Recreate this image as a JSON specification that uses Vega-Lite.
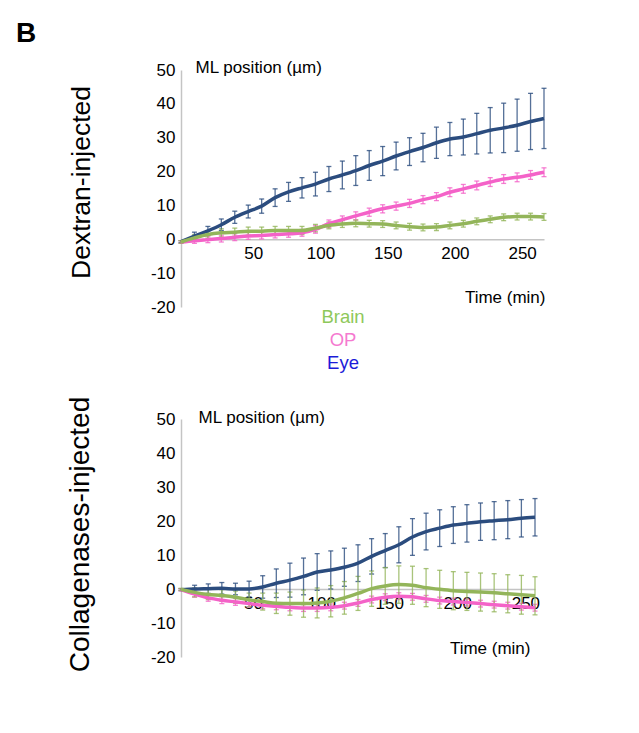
{
  "$schema": "https://vega.github.io/schema/vega-lite/v6.json",
  "padding": {"left": 16, "top": 20, "right": 5, "bottom": 5},
  "bounds": "flush",
  "spacing": 10,
  "background": "white",
  "title": {"text": "B", "anchor": "start", "frame": "group", "fontSize": 28, "fontWeight": "bold", "font": "Liberation Sans", "dx": -165, "offset": -12, "baseline": "alphabetic", "color": "#000000"},
  "config": {
    "view": {"stroke": null},
    "font": "Liberation Sans",
    "axis": {"grid": false, "ticks": false, "labelFont": "Liberation Sans", "labelFontSize": 17, "labelColor": "#000000", "labelExpr": "'' + datum.value", "titleFont": "Liberation Sans", "titleFontSize": 17, "titleFontWeight": "normal", "titleColor": "#000000", "domainColor": "#c4c4c4", "domainWidth": 1.5}
  },
  "resolve": {"scale": {"color": "independent", "fill": "independent"}},
  "datasets": {
    "legend": [{"label": "Brain"}, {"label": "OP"}, {"label": "Eye"}],
    "ml": [
      {"panel":"Dextran","series":"Eye","time":0,"mean":-0.7,"err":0.3},
      {"panel":"Dextran","series":"Eye","time":10,"mean":0.9,"err":1.2},
      {"panel":"Dextran","series":"Eye","time":20,"mean":2.5,"err":1.3},
      {"panel":"Dextran","series":"Eye","time":30,"mean":4.3,"err":1.7},
      {"panel":"Dextran","series":"Eye","time":40,"mean":6.5,"err":1.8},
      {"panel":"Dextran","series":"Eye","time":50,"mean":8.2,"err":1.9},
      {"panel":"Dextran","series":"Eye","time":60,"mean":9.8,"err":2.1},
      {"panel":"Dextran","series":"Eye","time":70,"mean":12.3,"err":2.6},
      {"panel":"Dextran","series":"Eye","time":80,"mean":14.0,"err":2.8},
      {"panel":"Dextran","series":"Eye","time":90,"mean":15.2,"err":3.0},
      {"panel":"Dextran","series":"Eye","time":100,"mean":16.3,"err":3.5},
      {"panel":"Dextran","series":"Eye","time":110,"mean":17.8,"err":3.7},
      {"panel":"Dextran","series":"Eye","time":120,"mean":19.0,"err":4.1},
      {"panel":"Dextran","series":"Eye","time":130,"mean":20.3,"err":4.4},
      {"panel":"Dextran","series":"Eye","time":140,"mean":21.8,"err":4.4},
      {"panel":"Dextran","series":"Eye","time":150,"mean":23.1,"err":4.3},
      {"panel":"Dextran","series":"Eye","time":160,"mean":24.6,"err":4.1},
      {"panel":"Dextran","series":"Eye","time":170,"mean":25.9,"err":4.1},
      {"panel":"Dextran","series":"Eye","time":180,"mean":27.1,"err":4.2},
      {"panel":"Dextran","series":"Eye","time":190,"mean":28.5,"err":4.6},
      {"panel":"Dextran","series":"Eye","time":200,"mean":29.6,"err":4.9},
      {"panel":"Dextran","series":"Eye","time":210,"mean":30.2,"err":5.3},
      {"panel":"Dextran","series":"Eye","time":220,"mean":31.2,"err":6.0},
      {"panel":"Dextran","series":"Eye","time":230,"mean":32.2,"err":6.7},
      {"panel":"Dextran","series":"Eye","time":240,"mean":32.9,"err":7.3},
      {"panel":"Dextran","series":"Eye","time":250,"mean":33.7,"err":7.7},
      {"panel":"Dextran","series":"Eye","time":260,"mean":34.8,"err":8.3},
      {"panel":"Dextran","series":"Eye","time":270,"mean":35.7,"err":8.9},
      {"panel":"Dextran","series":"OP","time":0,"mean":-0.8,"err":0.4},
      {"panel":"Dextran","series":"OP","time":10,"mean":-0.4,"err":0.8},
      {"panel":"Dextran","series":"OP","time":20,"mean":-0.1,"err":0.9},
      {"panel":"Dextran","series":"OP","time":30,"mean":0.2,"err":1.0},
      {"panel":"Dextran","series":"OP","time":40,"mean":0.6,"err":1.0},
      {"panel":"Dextran","series":"OP","time":50,"mean":1.0,"err":1.0},
      {"panel":"Dextran","series":"OP","time":60,"mean":1.1,"err":1.0},
      {"panel":"Dextran","series":"OP","time":70,"mean":1.4,"err":1.0},
      {"panel":"Dextran","series":"OP","time":80,"mean":1.6,"err":1.0},
      {"panel":"Dextran","series":"OP","time":90,"mean":1.9,"err":1.0},
      {"panel":"Dextran","series":"OP","time":100,"mean":2.9,"err":1.1},
      {"panel":"Dextran","series":"OP","time":110,"mean":4.6,"err":1.1},
      {"panel":"Dextran","series":"OP","time":120,"mean":5.8,"err":1.1},
      {"panel":"Dextran","series":"OP","time":130,"mean":6.9,"err":1.2},
      {"panel":"Dextran","series":"OP","time":140,"mean":8.0,"err":1.2},
      {"panel":"Dextran","series":"OP","time":150,"mean":9.0,"err":1.2},
      {"panel":"Dextran","series":"OP","time":160,"mean":9.8,"err":1.2},
      {"panel":"Dextran","series":"OP","time":170,"mean":10.6,"err":1.2},
      {"panel":"Dextran","series":"OP","time":180,"mean":11.7,"err":1.2},
      {"panel":"Dextran","series":"OP","time":190,"mean":12.6,"err":1.2},
      {"panel":"Dextran","series":"OP","time":200,"mean":13.9,"err":1.3},
      {"panel":"Dextran","series":"OP","time":210,"mean":14.9,"err":1.3},
      {"panel":"Dextran","series":"OP","time":220,"mean":15.9,"err":1.3},
      {"panel":"Dextran","series":"OP","time":230,"mean":16.9,"err":1.3},
      {"panel":"Dextran","series":"OP","time":240,"mean":17.8,"err":1.3},
      {"panel":"Dextran","series":"OP","time":250,"mean":18.3,"err":1.3},
      {"panel":"Dextran","series":"OP","time":260,"mean":19.0,"err":1.3},
      {"panel":"Dextran","series":"OP","time":270,"mean":19.8,"err":1.3},
      {"panel":"Dextran","series":"Brain","time":0,"mean":-0.8,"err":0.4},
      {"panel":"Dextran","series":"Brain","time":10,"mean":0.4,"err":1.0},
      {"panel":"Dextran","series":"Brain","time":20,"mean":1.4,"err":1.1},
      {"panel":"Dextran","series":"Brain","time":30,"mean":1.9,"err":1.2},
      {"panel":"Dextran","series":"Brain","time":40,"mean":2.1,"err":1.2},
      {"panel":"Dextran","series":"Brain","time":50,"mean":2.4,"err":1.2},
      {"panel":"Dextran","series":"Brain","time":60,"mean":2.4,"err":1.2},
      {"panel":"Dextran","series":"Brain","time":70,"mean":2.6,"err":1.2},
      {"panel":"Dextran","series":"Brain","time":80,"mean":2.6,"err":1.2},
      {"panel":"Dextran","series":"Brain","time":90,"mean":2.6,"err":1.2},
      {"panel":"Dextran","series":"Brain","time":100,"mean":3.3,"err":1.1},
      {"panel":"Dextran","series":"Brain","time":110,"mean":4.1,"err":1.0},
      {"panel":"Dextran","series":"Brain","time":120,"mean":4.5,"err":1.0},
      {"panel":"Dextran","series":"Brain","time":130,"mean":4.7,"err":1.0},
      {"panel":"Dextran","series":"Brain","time":140,"mean":4.6,"err":1.0},
      {"panel":"Dextran","series":"Brain","time":150,"mean":4.5,"err":1.0},
      {"panel":"Dextran","series":"Brain","time":160,"mean":4.1,"err":1.0},
      {"panel":"Dextran","series":"Brain","time":170,"mean":3.7,"err":1.0},
      {"panel":"Dextran","series":"Brain","time":180,"mean":3.5,"err":1.0},
      {"panel":"Dextran","series":"Brain","time":190,"mean":3.6,"err":1.0},
      {"panel":"Dextran","series":"Brain","time":200,"mean":4.1,"err":1.0},
      {"panel":"Dextran","series":"Brain","time":210,"mean":4.6,"err":1.0},
      {"panel":"Dextran","series":"Brain","time":220,"mean":5.3,"err":1.0},
      {"panel":"Dextran","series":"Brain","time":230,"mean":5.9,"err":1.0},
      {"panel":"Dextran","series":"Brain","time":240,"mean":6.5,"err":1.0},
      {"panel":"Dextran","series":"Brain","time":250,"mean":6.7,"err":1.0},
      {"panel":"Dextran","series":"Brain","time":260,"mean":6.7,"err":1.0},
      {"panel":"Dextran","series":"Brain","time":270,"mean":6.6,"err":1.0},
      {"panel":"Collagenases","series":"Eye","time":0,"mean":-0.2,"err":0.3},
      {"panel":"Collagenases","series":"Eye","time":10,"mean":0.0,"err":1.1},
      {"panel":"Collagenases","series":"Eye","time":20,"mean":0.1,"err":1.4},
      {"panel":"Collagenases","series":"Eye","time":30,"mean":0.2,"err":1.7},
      {"panel":"Collagenases","series":"Eye","time":40,"mean":0.0,"err":1.7},
      {"panel":"Collagenases","series":"Eye","time":50,"mean":0.0,"err":2.3},
      {"panel":"Collagenases","series":"Eye","time":60,"mean":0.6,"err":3.3},
      {"panel":"Collagenases","series":"Eye","time":70,"mean":1.7,"err":4.2},
      {"panel":"Collagenases","series":"Eye","time":80,"mean":2.6,"err":5.0},
      {"panel":"Collagenases","series":"Eye","time":90,"mean":3.7,"err":5.4},
      {"panel":"Collagenases","series":"Eye","time":100,"mean":5.0,"err":5.4},
      {"panel":"Collagenases","series":"Eye","time":110,"mean":5.6,"err":5.6},
      {"panel":"Collagenases","series":"Eye","time":120,"mean":6.4,"err":5.6},
      {"panel":"Collagenases","series":"Eye","time":130,"mean":7.6,"err":5.4},
      {"panel":"Collagenases","series":"Eye","time":140,"mean":9.6,"err":5.2},
      {"panel":"Collagenases","series":"Eye","time":150,"mean":11.3,"err":5.0},
      {"panel":"Collagenases","series":"Eye","time":160,"mean":13.0,"err":5.3},
      {"panel":"Collagenases","series":"Eye","time":170,"mean":15.3,"err":5.4},
      {"panel":"Collagenases","series":"Eye","time":180,"mean":16.9,"err":5.4},
      {"panel":"Collagenases","series":"Eye","time":190,"mean":17.9,"err":5.4},
      {"panel":"Collagenases","series":"Eye","time":200,"mean":18.8,"err":5.4},
      {"panel":"Collagenases","series":"Eye","time":210,"mean":19.3,"err":5.5},
      {"panel":"Collagenases","series":"Eye","time":220,"mean":19.8,"err":5.5},
      {"panel":"Collagenases","series":"Eye","time":230,"mean":20.1,"err":5.6},
      {"panel":"Collagenases","series":"Eye","time":240,"mean":20.4,"err":5.6},
      {"panel":"Collagenases","series":"Eye","time":250,"mean":20.8,"err":5.5},
      {"panel":"Collagenases","series":"Eye","time":260,"mean":21.1,"err":5.5},
      {"panel":"Collagenases","series":"OP","time":0,"mean":-0.2,"err":0.3},
      {"panel":"Collagenases","series":"OP","time":10,"mean":-1.5,"err":0.9},
      {"panel":"Collagenases","series":"OP","time":20,"mean":-2.6,"err":1.0},
      {"panel":"Collagenases","series":"OP","time":30,"mean":-3.3,"err":1.0},
      {"panel":"Collagenases","series":"OP","time":40,"mean":-3.8,"err":1.0},
      {"panel":"Collagenases","series":"OP","time":50,"mean":-4.3,"err":1.0},
      {"panel":"Collagenases","series":"OP","time":60,"mean":-4.8,"err":1.0},
      {"panel":"Collagenases","series":"OP","time":70,"mean":-5.1,"err":1.0},
      {"panel":"Collagenases","series":"OP","time":80,"mean":-5.4,"err":1.0},
      {"panel":"Collagenases","series":"OP","time":90,"mean":-5.6,"err":1.0},
      {"panel":"Collagenases","series":"OP","time":100,"mean":-5.6,"err":1.0},
      {"panel":"Collagenases","series":"OP","time":110,"mean":-5.4,"err":1.0},
      {"panel":"Collagenases","series":"OP","time":120,"mean":-4.9,"err":1.0},
      {"panel":"Collagenases","series":"OP","time":130,"mean":-4.1,"err":1.0},
      {"panel":"Collagenases","series":"OP","time":140,"mean":-3.1,"err":1.0},
      {"panel":"Collagenases","series":"OP","time":150,"mean":-2.4,"err":1.0},
      {"panel":"Collagenases","series":"OP","time":160,"mean":-2.1,"err":1.0},
      {"panel":"Collagenases","series":"OP","time":170,"mean":-2.3,"err":1.0},
      {"panel":"Collagenases","series":"OP","time":180,"mean":-2.9,"err":1.0},
      {"panel":"Collagenases","series":"OP","time":190,"mean":-3.4,"err":1.0},
      {"panel":"Collagenases","series":"OP","time":200,"mean":-3.7,"err":1.0},
      {"panel":"Collagenases","series":"OP","time":210,"mean":-4.0,"err":1.0},
      {"panel":"Collagenases","series":"OP","time":220,"mean":-4.3,"err":1.0},
      {"panel":"Collagenases","series":"OP","time":230,"mean":-4.6,"err":1.0},
      {"panel":"Collagenases","series":"OP","time":240,"mean":-4.9,"err":1.0},
      {"panel":"Collagenases","series":"OP","time":250,"mean":-5.2,"err":1.0},
      {"panel":"Collagenases","series":"OP","time":260,"mean":-5.5,"err":1.0},
      {"panel":"Collagenases","series":"Brain","time":0,"mean":-0.1,"err":0.3},
      {"panel":"Collagenases","series":"Brain","time":10,"mean":-1.0,"err":1.3},
      {"panel":"Collagenases","series":"Brain","time":20,"mean":-1.6,"err":1.5},
      {"panel":"Collagenases","series":"Brain","time":30,"mean":-1.9,"err":1.7},
      {"panel":"Collagenases","series":"Brain","time":40,"mean":-2.4,"err":1.8},
      {"panel":"Collagenases","series":"Brain","time":50,"mean":-3.2,"err":2.0},
      {"panel":"Collagenases","series":"Brain","time":60,"mean":-3.7,"err":2.5},
      {"panel":"Collagenases","series":"Brain","time":70,"mean":-4.2,"err":3.0},
      {"panel":"Collagenases","series":"Brain","time":80,"mean":-4.3,"err":3.4},
      {"panel":"Collagenases","series":"Brain","time":90,"mean":-4.3,"err":4.0},
      {"panel":"Collagenases","series":"Brain","time":100,"mean":-4.1,"err":4.4},
      {"panel":"Collagenases","series":"Brain","time":110,"mean":-3.6,"err":4.6},
      {"panel":"Collagenases","series":"Brain","time":120,"mean":-2.6,"err":4.8},
      {"panel":"Collagenases","series":"Brain","time":130,"mean":-1.3,"err":5.0},
      {"panel":"Collagenases","series":"Brain","time":140,"mean":0.1,"err":5.2},
      {"panel":"Collagenases","series":"Brain","time":150,"mean":0.9,"err":5.4},
      {"panel":"Collagenases","series":"Brain","time":160,"mean":1.3,"err":5.5},
      {"panel":"Collagenases","series":"Brain","time":170,"mean":1.1,"err":5.6},
      {"panel":"Collagenases","series":"Brain","time":180,"mean":0.4,"err":5.6},
      {"panel":"Collagenases","series":"Brain","time":190,"mean":-0.1,"err":5.6},
      {"panel":"Collagenases","series":"Brain","time":200,"mean":-0.5,"err":5.6},
      {"panel":"Collagenases","series":"Brain","time":210,"mean":-0.7,"err":5.6},
      {"panel":"Collagenases","series":"Brain","time":220,"mean":-0.9,"err":5.6},
      {"panel":"Collagenases","series":"Brain","time":230,"mean":-1.1,"err":5.6},
      {"panel":"Collagenases","series":"Brain","time":240,"mean":-1.4,"err":5.6},
      {"panel":"Collagenases","series":"Brain","time":250,"mean":-1.7,"err":5.7},
      {"panel":"Collagenases","series":"Brain","time":260,"mean":-2.0,"err":5.6}
    ]
  },
  "vconcat": [
    {
      "width": 363,
      "height": 237,
      "title": {"text": "Dextran-injected", "orient": "left", "anchor": "middle", "fontSize": 26.5, "fontWeight": "normal", "font": "Liberation Sans", "offset": 55, "dx": 6, "color": "#000000"},
      "data": {"name": "ml"},
      "transform": [{"filter": "datum.panel === 'Dextran'"}],
      "encoding": {
        "x": {"field": "time", "type": "quantitative", "scale": {"domain": [0, 270], "nice": false, "zero": false},
              "axis": {"values": [50, 100, 150, 200, 250], "offset": -67.7, "labelPadding": 6, "labelOffset": 5, "title": "Time (min)", "titleX": 364, "titleY": 58, "titleAlign": "right", "titleAnchor": "end", "titleBaseline": "middle"}},
        "y": {"field": "mean", "type": "quantitative", "scale": {"domain": [-20, 50], "nice": false},
              "axis": {"values": [-20, -10, 0, 10, 20, 30, 40, 50], "labelPadding": 6, "title": "ML position (µm)", "titleAngle": 0, "titleX": 14, "titleY": -3, "titleAlign": "left", "titleBaseline": "middle"}},
        "color": {"field": "series", "type": "nominal", "scale": {"domain": ["Brain", "OP", "Eye"], "range": ["#93b55a", "#f462c8", "#2b4c7e"]}, "legend": null}
      },
      "layer": [
        {"mark": {"type": "errorbar", "thickness": 1.3, "ticks": {"size": 5, "opacity": 0.8}, "rule": {"opacity": 0.8}}, "encoding": {"yError": {"field": "err"}}},
        {"mark": {"type": "line", "interpolate": "monotone", "strokeWidth": 3.5}}
      ]
    },
    {
      "width": 324,
      "height": 92,
      "data": {"name": "legend"},
      "mark": {"type": "text", "fontSize": 18.5, "font": "Liberation Sans", "baseline": "middle", "align": "center"},
      "encoding": {
        "y": {"field": "label", "type": "nominal", "scale": {"type": "point", "domain": ["Brain", "OP", "Eye"], "padding": 1, "align": 0}, "axis": null},
        "text": {"field": "label"},
        "fill": {"field": "label", "type": "nominal", "scale": {"domain": ["Brain", "OP", "Eye"], "range": ["#8ec85a", "#f57ad0", "#1c1cd8"]}, "legend": null}
      }
    },
    {
      "width": 354,
      "height": 238,
      "title": {"text": "Collagenases-injected", "orient": "left", "anchor": "middle", "fontSize": 28, "fontWeight": "normal", "font": "Liberation Sans", "offset": 55, "dx": 3.5, "color": "#000000"},
      "data": {"name": "ml"},
      "transform": [{"filter": "datum.panel === 'Collagenases'"}],
      "encoding": {
        "x": {"field": "time", "type": "quantitative", "scale": {"domain": [0, 260], "nice": false, "zero": false},
              "axis": {"values": [50, 100, 150, 200, 250], "offset": -68, "labelPadding": 6, "labelOffset": 4, "title": "Time (min)", "titleX": 349, "titleY": 59, "titleAlign": "right", "titleAnchor": "end", "titleBaseline": "middle"}},
        "y": {"field": "mean", "type": "quantitative", "scale": {"domain": [-20, 50], "nice": false},
              "axis": {"values": [-20, -10, 0, 10, 20, 30, 40, 50], "labelPadding": 6, "title": "ML position (µm)", "titleAngle": 0, "titleX": 17, "titleY": -2, "titleAlign": "left", "titleBaseline": "middle"}},
        "color": {"field": "series", "type": "nominal", "scale": {"domain": ["Brain", "OP", "Eye"], "range": ["#93b55a", "#f462c8", "#2b4c7e"]}, "legend": null}
      },
      "layer": [
        {"mark": {"type": "errorbar", "thickness": 1.3, "ticks": {"size": 5, "opacity": 0.8}, "rule": {"opacity": 0.8}}, "encoding": {"yError": {"field": "err"}}},
        {"mark": {"type": "line", "interpolate": "monotone", "strokeWidth": 3.5}}
      ]
    }
  ]
}
